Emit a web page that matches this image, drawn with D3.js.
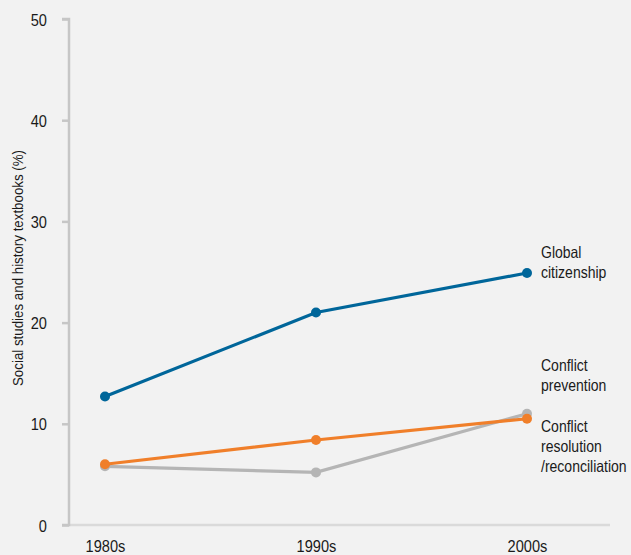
<!DOCTYPE html>
<html><head><meta charset="utf-8">
<script src="https://cdn.jsdelivr.net/npm/d3@7"></script>
<style>
html,body{margin:0;padding:0;background:#f2f2f2;}
svg{display:block;}
text{font-family:"Liberation Sans","Arial",sans-serif;fill:#1a1a1a;}
</style></head>
<body>
<script>
const categories = ["1980s","1990s","2000s"];
const globalCitizenship = [12.7, 21.0, 24.9];
const conflictPrevention = [6.0, 8.4, 10.5];
const conflictResolution = [5.8, 5.2, 11.0];
const yTicks = [0,10,20,30,40,50];
const seriesNames = [["Global","citizenship"],["Conflict","prevention"],["Conflict","resolution","/reconciliation"]];
const seriesColors = ["#00669a","#f07f2a","#b5b5b5"];

const W=631,H=555;
const SX=0.86;
const svg=d3.select("body").append("svg").attr("width",W).attr("height",H);
svg.append("rect").attr("width",W).attr("height",H).attr("fill","#f2f2f2");

const y=d3.scaleLinear().domain([0,50]).range([525,19]);
const x=d3.scalePoint().domain(categories).range([105,527]);

svg.append("line").attr("x1",69).attr("x2",610).attr("y1",525).attr("y2",525)
  .attr("stroke","#dadada").attr("stroke-width",2.5);

const yAxis=d3.axisLeft(y).tickValues(yTicks).tickSize(7).tickPadding(0).tickFormat(()=> "");
const gy=svg.append("g").attr("transform","translate(69,0)").call(yAxis);
gy.select(".domain").attr("stroke","#c6c6c6").attr("stroke-width",2.5).attr("d","M-7,19H0V525H-7");
gy.selectAll(".tick line").attr("stroke","#c6c6c6").attr("stroke-width",2.5);
gy.selectAll(".tick").append("text")
  .attr("transform",`translate(-22,6) scale(${SX},1)`)
  .attr("text-anchor","end").attr("font-size",17).attr("fill","#1a1a1a")
  .text(d=>d);

const xAxis=d3.axisBottom(x).tickSize(0).tickPadding(0).tickFormat(()=> "");
const gx=svg.append("g").attr("transform","translate(0,525)").call(xAxis);
gx.select(".domain").remove();
gx.selectAll(".tick").append("text")
  .attr("transform",`translate(0,27) scale(${SX},1)`)
  .attr("text-anchor","middle").attr("font-size",17).attr("fill","#1a1a1a")
  .text(d=>d);

svg.append("text").attr("transform",`translate(23,268) rotate(-90) scale(${SX},1)`)
  .attr("text-anchor","middle").attr("font-size",15.5)
  .text("Social studies and history textbooks (%)");

const allSeries=[globalCitizenship,conflictPrevention,conflictResolution];
const line=d3.line().x((d,i)=>x(categories[i])).y(d=>y(d));
const order=[2,1,0];
order.forEach(k=>{
  const vals=allSeries[k];
  svg.append("path").attr("d",line(vals)).attr("fill","none")
    .attr("stroke",seriesColors[k]).attr("stroke-width",3.2);
  svg.selectAll(null).data(vals).enter().append("circle")
    .attr("cx",(d,i)=>x(categories[i])).attr("cy",d=>y(d)).attr("r",5)
    .attr("fill",seriesColors[k]);
});

const labelTops=[258,371,432];
seriesNames.forEach((lines,k)=>{
  const t=svg.append("text").attr("transform",`translate(541,${labelTops[k]}) scale(${SX},1)`)
    .attr("font-size",16.3).attr("fill","#333");
  lines.forEach((s,j)=>t.append("tspan").attr("x",0).attr("dy",j?20:0).text(s));
});
</script>
</body></html>
